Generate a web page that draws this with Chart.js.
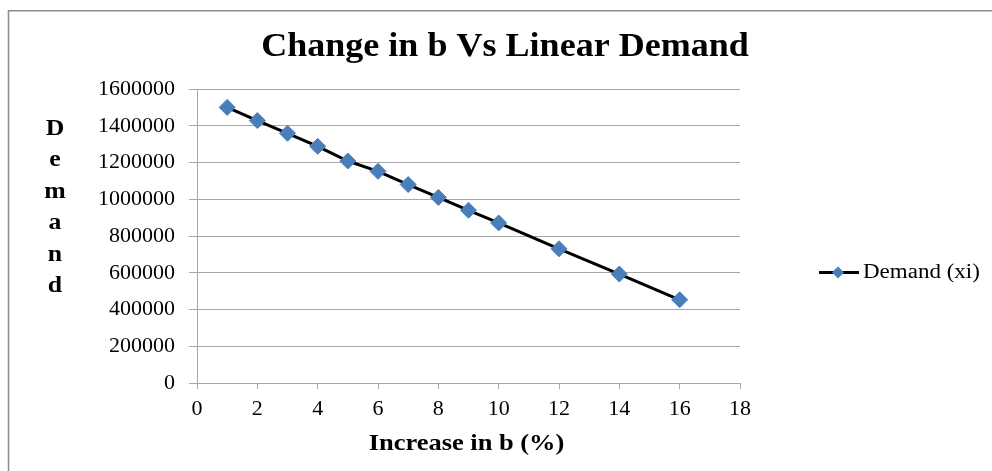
<!DOCTYPE html>
<html>
<head>
<meta charset="utf-8">
<script src="https://cdn.jsdelivr.net/npm/chart.js@4/dist/chart.umd.min.js"></script>
<style>
  html, body { margin: 0; padding: 0; background: #ffffff; }
  #wrap { width: 992px; height: 471px; }
</style>
</head>
<body>
<div id="wrap"><canvas id="chart" width="992" height="471"></canvas></div>
<script>
// Increase in b (%) and the resulting linear demand
const increaseInB = [1, 2, 3, 4, 5, 6, 7, 8, 9, 10, 12, 14, 16];
const demandXi = [1500000, 1428000, 1359000, 1288000, 1208000, 1152000, 1080000,
                  1010000, 940000, 871000, 730000, 593000, 453000];

const chartTitle = 'Change in b Vs Linear Demand';
const xAxisTitle = 'Increase in b (%)';
const yAxisTitle = 'Demand';
const seriesName = 'Demand (xi)';

const xTicks = { min: 0, max: 18, step: 2 };
const yTicks = { min: 0, max: 1600000, step: 200000 };

const SERIF = '"Liberation Serif", "Times New Roman", serif';
const MARKER = '#4a7ebb';
const GRID = '#a6a6a6';

// draws text with a slight horizontal stretch
function wideText(ctx, text, x, y, font, sx, align) {
  ctx.save();
  ctx.font = font;
  ctx.fillStyle = '#000';
  ctx.textBaseline = 'alphabetic';
  const w = ctx.measureText(text).width * sx;
  let left = x;
  if (align === 'center') left = x - w / 2;
  ctx.translate(left, y);
  ctx.scale(sx, 1);
  ctx.textAlign = 'left';
  ctx.fillText(text, 0, 0);
  ctx.restore();
}

const decorations = {
  id: 'decorations',
  beforeDraw(chart) {
    const ctx = chart.ctx;
    ctx.save();
    ctx.fillStyle = '#fff';
    ctx.fillRect(0, 0, chart.width, chart.height);
    // outer frame
    ctx.strokeStyle = '#8c8c8c';
    ctx.lineWidth = 1.5;
    ctx.beginPath();
    ctx.moveTo(8.5, chart.height + 2);
    ctx.lineTo(8.5, 10.75);
    ctx.lineTo(chart.width + 2, 10.75);
    ctx.stroke();
    ctx.restore();
  },
  afterDraw(chart) {
    const ctx = chart.ctx;
    const area = chart.chartArea;
    // title
    wideText(ctx, chartTitle, 505, 56, 'bold 34px ' + SERIF, 1.06, 'center');
    // x axis title
    wideText(ctx, xAxisTitle, (area.left + area.right) / 2 - 2, 450, 'bold 23px ' + SERIF, 1.15, 'center');
    // y axis title, one letter per line
    const letters = yAxisTitle.split('');
    letters.forEach((ch, i) => {
      wideText(ctx, ch, 55, 135 + i * 31.4, 'bold 23px ' + SERIF, 1.12, 'center');
    });
    // legend entry
    const ly = 272.5;
    ctx.save();
    ctx.strokeStyle = '#000';
    ctx.lineWidth = 3;
    ctx.beginPath();
    ctx.moveTo(819, ly);
    ctx.lineTo(859, ly);
    ctx.stroke();
    ctx.fillStyle = MARKER;
    ctx.beginPath();
    ctx.moveTo(838, ly - 6);
    ctx.lineTo(844, ly);
    ctx.lineTo(838, ly + 6);
    ctx.lineTo(832, ly);
    ctx.closePath();
    ctx.fill();
    ctx.restore();
    wideText(ctx, seriesName, 863, 277.5, '20px ' + SERIF, 1.15, 'left');
  }
};

new Chart(document.getElementById('chart'), {
  type: 'line',
  data: {
    datasets: [{
      label: seriesName,
      data: increaseInB.map((x, i) => ({ x: x, y: demandXi[i] })),
      borderColor: '#000',
      borderWidth: 3,
      pointStyle: 'rectRot',
      pointRadius: 8,
      pointBackgroundColor: MARKER,
      pointBorderColor: MARKER,
      pointBorderWidth: 1,
      tension: 0,
      fill: false
    }]
  },
  options: {
    responsive: false,
    animation: false,
    devicePixelRatio: 1,
    layout: { padding: { top: 89, left: 0, right: 252, bottom: 0 } },
    plugins: {
      legend: { display: false },
      title: { display: false },
      tooltip: { enabled: false }
    },
    scales: {
      x: {
        type: 'linear',
        min: xTicks.min,
        max: xTicks.max,
        afterFit(scale) { scale.height = 88; },
        ticks: {
          stepSize: xTicks.step,
          color: '#000',
          font: { family: SERIF, size: 22 },
          padding: 7,
          maxRotation: 0
        },
        grid: { drawOnChartArea: false, drawTicks: true, tickLength: 6, color: GRID },
        border: { color: GRID, width: 1 }
      },
      y: {
        min: yTicks.min,
        max: yTicks.max,
        afterFit(scale) { scale.width = 197; },
        ticks: {
          stepSize: yTicks.step,
          color: '#000',
          font: { family: SERIF, size: 22 },
          padding: 14,
          callback: v => String(v)
        },
        grid: { color: GRID, tickLength: 8, drawTicks: true },
        border: { color: GRID, width: 1 }
      }
    }
  },
  plugins: [decorations]
});
</script>
</body>
</html>
